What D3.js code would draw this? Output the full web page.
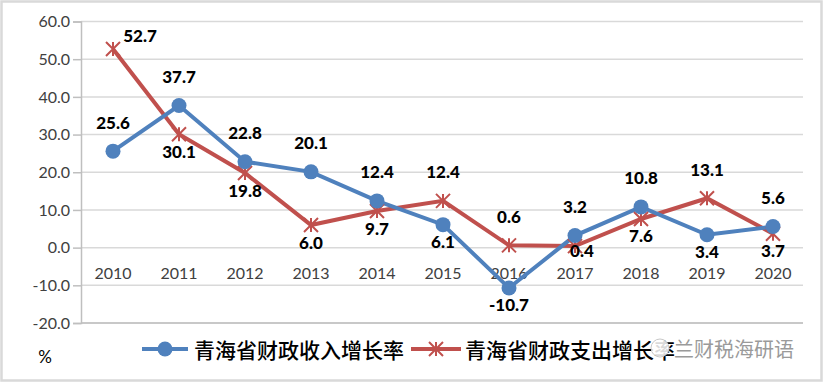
<!DOCTYPE html>
<html><head><meta charset="utf-8">
<script src="https://cdn.jsdelivr.net/npm/d3@7"></script>
<style>body{margin:0;background:#fff}svg{display:block}</style>
</head><body><svg id="c" width="823" height="382"></svg>
<script>
const years = ["2010","2011","2012","2013","2014","2015","2016","2017","2018","2019","2020"];
const income = [25.6, 37.7, 22.8, 20.1, 12.4, 6.1, -10.7, 3.2, 10.8, 3.4, 5.6];
const expend = [52.7, 30.1, 19.8, 6.0, 9.7, 12.4, 0.6, 0.4, 7.6, 13.1, 3.7];
const yTicks = [60, 50, 40, 30, 20, 10, 0, -10, -20];
const incomePos = ["a","a","a","a","a","b","b","a","a","b","a"];
const expendPos = ["ar","b","b","b","b","a","a","br","b","a","b"];
const seriesNames = ["青海省财政收入增长率", "青海省财政支出增长率"];

const svg = d3.select("#c");
const blue = "#4f81bd", red = "#c0504d";
svg.append("rect").attr("x",1.5).attr("y",1.5).attr("width",820).attr("height",379)
  .attr("fill","#fff").attr("stroke","#d9d9d9").attr("stroke-width",2.5);

const x = d3.scaleBand().domain(years).range([80, 806]);
const y = d3.scaleLinear().domain([-20, 60]).range([323, 21.5]);
const cx = d => x(d) + x.bandwidth()/2;
const numFont = "Lato, 'Open Sans', sans-serif";

// gridlines
svg.append("g").selectAll("line").data(yTicks).join("line")
  .attr("x1",81).attr("x2",803).attr("y1",d=>y(d)).attr("y2",d=>y(d))
  .attr("stroke","#d9d9d9").attr("stroke-width",1.5);
// y axis
const ya = svg.append("g").attr("transform","translate(81,0)")
  .call(d3.axisLeft(y).tickValues(yTicks).tickSize(8).tickPadding(3).tickFormat(d => d.toFixed(1)));
ya.select(".domain").attr("stroke","#bfbfbf").attr("stroke-width",1.5);
ya.selectAll(".tick line").attr("stroke","#bfbfbf").attr("stroke-width",1.5);
ya.selectAll("text").attr("fill","#404040").style("font-family",numFont).style("font-size","16px");
// bottom axis line at -20
svg.append("line").attr("x1",81).attr("x2",803).attr("y1",y(-20)).attr("y2",y(-20))
  .attr("stroke","#bfbfbf").attr("stroke-width",1.5);
// category labels
svg.append("g").selectAll("text").data(years).join("text")
  .attr("x",d=>cx(d)).attr("y",272).attr("text-anchor","middle").attr("dominant-baseline","central")
  .attr("fill","#404040").style("font-family",numFont).style("font-size","16px")
  .text(d=>d);

const line = d3.line().x((d,i)=>cx(years[i])).y(d=>y(d));
svg.append("path").datum(expend).attr("d",line).attr("fill","none").attr("stroke",red).attr("stroke-width",4);
svg.append("path").datum(income).attr("d",line).attr("fill","none").attr("stroke",blue).attr("stroke-width",4);

function star(g, px, py, s){
  const r = s;
  g.append("path").attr("d",`M${px-r},${py-r}L${px+r},${py+r}M${px-r},${py+r}L${px+r},${py-r}M${px},${py-r}L${px},${py+r}`)
    .attr("stroke",red).attr("stroke-width",2).attr("fill","none");
}
const mg = svg.append("g");
expend.forEach((v,i)=>star(mg, cx(years[i]), y(v), 7));
svg.append("g").selectAll("circle").data(income).join("circle")
  .attr("cx",(d,i)=>cx(years[i])).attr("cy",d=>y(d)).attr("r",7.5).attr("fill",blue);

function labels(data, pos){
  svg.append("g").selectAll("text").data(data).join("text")
    .attr("x",(d,i)=>cx(years[i]) + (pos[i]==="ar"?27:pos[i]==="br"?7:0))
    .attr("y",(d,i)=>y(d) + (pos[i]==="a"?-29:pos[i]==="ar"?-14:pos[i]==="br"?4:17))
    .attr("text-anchor","middle").attr("dominant-baseline","central")
    .attr("fill","#000").style("font-family",numFont).style("font-weight","900").style("font-size","17px")
    .text(d=>d.toFixed(1));
}
labels(income, incomePos);
labels(expend, expendPos);

// legend
const ly = 349;
const cjk = "'Noto Sans CJK SC', sans-serif";
svg.append("line").attr("x1",142).attr("x2",188).attr("y1",ly).attr("y2",ly).attr("stroke",blue).attr("stroke-width",4);
svg.append("circle").attr("cx",165).attr("cy",ly).attr("r",7.5).attr("fill",blue);
svg.append("text").attr("x",194).attr("y",ly).attr("dominant-baseline","central")
  .style("font-family",cjk).style("font-weight","500").style("font-size","21px").attr("fill","#000").text(seriesNames[0]);
svg.append("line").attr("x1",411).attr("x2",461).attr("y1",ly).attr("y2",ly).attr("stroke",red).attr("stroke-width",4);
star(svg, 436, ly, 7);
svg.append("text").attr("x",465).attr("y",ly).attr("dominant-baseline","central")
  .style("font-family",cjk).style("font-weight","500").style("font-size","21px").attr("fill","#000").text(seriesNames[1]);
// watermark
svg.append("circle").attr("cx",660).attr("cy",348).attr("r",9).attr("fill","#fff").attr("fill-opacity",0.85).attr("stroke","#c8c8c8");
svg.append("text").attr("x",674).attr("y",348).attr("dominant-baseline","central")
  .style("font-family",cjk).style("font-size","20px").attr("fill","#9a9a9a").text("兰财税海研语");
// % label
svg.append("text").attr("x",45).attr("y",356).attr("text-anchor","middle").attr("dominant-baseline","central")
  .style("font-family",numFont).style("font-size","17px").attr("fill","#000").text("%");
</script></body></html>
